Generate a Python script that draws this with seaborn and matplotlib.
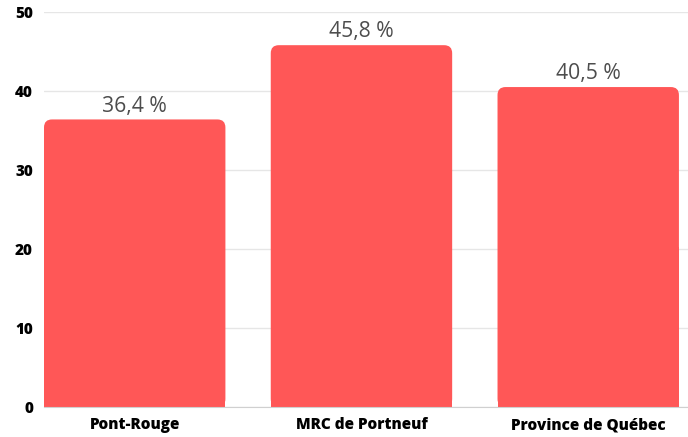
import pandas as pd
import seaborn as sns
from matplotlib import pyplot as plt
from matplotlib.patches import FancyBboxPatch, Rectangle

categories = ["Pont-Rouge", "MRC de Portneuf", "Province de Québec"]
values = [36.4, 45.8, 40.5]
labels = ["36,4 %", "45,8 %", "40,5 %"]
yticks = [0, 10, 20, 30, 40, 50]

BAR_COLOR = "#FF5757"

sns.set_style("white")
plt.rcParams["font.family"] = ["Open Sans", "DejaVu Sans"]

df = pd.DataFrame({"zone": categories, "pct": values})

fig = plt.figure(figsize=(6.88, 4.37), dpi=100)
ax = fig.add_axes([44 / 688, 30 / 437, 644 / 688, 395 / 437])

sns.barplot(data=df, x="zone", y="pct", color=BAR_COLOR, saturation=1,
            width=0.8, ax=ax, zorder=2)

ax.set_ylim(0, 50)
ax.set_xlim(-0.4, 2.44)

# round off the top corners of each bar
xpp = (ax.get_xlim()[1] - ax.get_xlim()[0]) / 644
ypp = 50 / 395
for p in list(ax.patches):
    x, y, w, h = p.get_x(), p.get_y(), p.get_width(), p.get_height()
    p.remove()
    r = 8 * xpp
    ax.add_patch(FancyBboxPatch((x, y), w, h,
                                boxstyle=f"round,pad=0,rounding_size={r}",
                                mutation_aspect=ypp / xpp,
                                fc=BAR_COLOR, ec="none", zorder=2))
    ax.add_patch(Rectangle((x, y), w, h / 2, fc=BAR_COLOR, ec="none",
                           zorder=2))

for i, (v, lab) in enumerate(zip(values, labels)):
    ax.annotate(lab, (i, v), xytext=(0, 2), textcoords="offset points",
                ha="center", va="bottom", fontsize=15.2, color="#4D4D4D")

ax.set_yticks(yticks)
ax.yaxis.grid(True, color="#E6E6E6", linewidth=1)
ax.set_axisbelow(True)
ax.tick_params(axis="y", length=0, pad=8, labelsize=11)
ax.tick_params(axis="x", length=0, pad=7.5, labelsize=11)
for t in ax.get_xticklabels() + ax.get_yticklabels():
    t.set_fontweight("heavy")
    t.set_color("black")

for s in ["top", "right", "left"]:
    ax.spines[s].set_visible(False)
ax.spines["bottom"].set_color("#D0D0D0")
ax.set_xlabel("")
ax.set_ylabel("")

fig.savefig("out.png", dpi=100)
